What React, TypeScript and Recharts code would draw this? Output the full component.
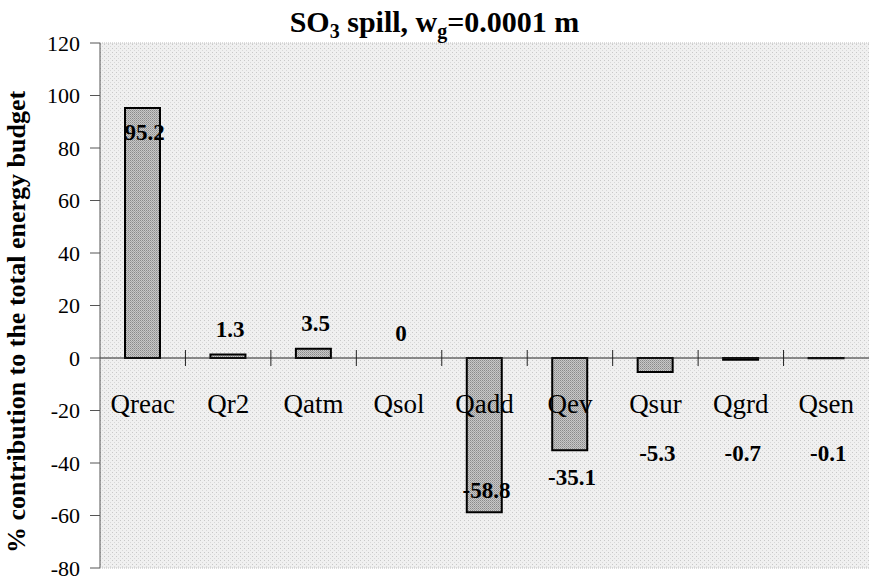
import React from 'react';
import { BarChart, Bar, XAxis, YAxis, CartesianGrid, ReferenceLine } from 'recharts';

// Energy budget terms, SO3 spill, wg = 0.0001 m
const categories = ['Qreac', 'Qr2', 'Qatm', 'Qsol', 'Qadd', 'Qev', 'Qsur', 'Qgrd', 'Qsen'];
const values = [95.2, 1.3, 3.5, 0, -58.8, -35.1, -5.3, -0.7, -0.1];
const yTicks = [-80, -60, -40, -20, 0, 20, 40, 60, 80, 100, 120];

const W = 869;
const H = 579;
const margin = { top: 43, right: 0, bottom: 0, left: 0 };
const xAxisHeight = 11;
const yAxisWidth = 100;
const plotW = W - margin.left - margin.right - yAxisWidth;
const plotH = H - margin.top - margin.bottom - xAxisHeight;
const yMin = yTicks[0];
const yMax = yTicks[yTicks.length - 1];
const yPx = (v: number) => margin.top + ((yMax - v) / (yMax - yMin)) * plotH;
const zeroY = yPx(0);
const barSize = 35;

const serif = 'Liberation Serif';
const boldText = { fontFamily: serif, fontWeight: 700 };

const data = categories.map((name, i) => ({ name, value: values[i] }));

// value label placement, mimicking the hand-placed Excel labels
function labelY(v: number) {
  const end = yPx(v);
  const h = Math.abs(end - zeroY);
  if (v >= 0) return h > 100 ? end + 24 : end - 25;
  if (h > 110) return end - 22;
  return Math.max(end + 27, zeroY + 95);
}

function ValueTick(props: any) {
  const { x, y, payload } = props;
  return (
    <text x={x} y={y} textAnchor="end" dominantBaseline="central" fontSize={22} style={{ fontFamily: serif }} fill="#000">
      {payload.value}
    </text>
  );
}

function CategoryTick(props: any) {
  const { x, payload, index } = props;
  const band = plotW / categories.length;
  const v = values[index];
  return (
    <g>
      {index < categories.length - 1 && (
        <line x1={x + band / 2} x2={x + band / 2} y1={zeroY - 8} y2={zeroY + 8} stroke="#222" strokeWidth={1} />
      )}
      <text x={x} y={zeroY + 55} textAnchor="middle" fontSize={27} style={{ fontFamily: serif }} fill="#000">
        {payload.value}
      </text>
      <text x={x + 2} y={labelY(v)} textAnchor="middle" dominantBaseline="central" fontSize={23} style={boldText} fill="#000">
        {String(v)}
      </text>
    </g>
  );
}

export default function App() {
  return (
    <div style={{ position: 'absolute', left: 0, top: 0, width: W, height: H, background: '#fff' }}>
      <svg width={0} height={0} style={{ position: 'absolute' }}>
        <defs>
          <pattern id="bgDots" width="4" height="4" patternUnits="userSpaceOnUse">
            <rect width="4" height="4" fill="#f0f0f0" />
            <rect x="0" y="0" width="1" height="1" fill="#c8c8c8" />
            <rect x="2" y="2" width="1" height="1" fill="#d8d8d8" />
          </pattern>
          <pattern id="barDots" width="2" height="2" patternUnits="userSpaceOnUse">
            <rect width="2" height="2" fill="#c8c8c8" />
            <rect x="0" y="0" width="1" height="1" fill="#8a8a8a" />
            <rect x="1" y="1" width="1" height="1" fill="#a4a4a4" />
          </pattern>
        </defs>
      </svg>
      <BarChart width={W} height={H} data={data} margin={margin} barSize={barSize}>
        <CartesianGrid horizontal={false} vertical={false} fill="url(#bgDots)" />
        <ReferenceLine y={yMax} stroke="#bbb" strokeDasharray="1 1" />
        <YAxis
          type="number"
          domain={[yMin, yMax]}
          ticks={yTicks}
          interval={0}
          width={yAxisWidth}
          tickSize={10}
          tickMargin={10}
          axisLine={{ stroke: '#555', strokeWidth: 1 }}
          tickLine={{ stroke: '#555', strokeWidth: 1 }}
          tick={<ValueTick />}
        />
        <Bar dataKey="value" fill="url(#barDots)" stroke="#000" strokeWidth={2} isAnimationActive={false} />
        <ReferenceLine y={0} stroke="#222" strokeWidth={1} />
        <XAxis
          dataKey="name"
          height={xAxisHeight}
          interval={0}
          axisLine={{ stroke: '#bbb', strokeDasharray: '1 1' }}
          tickLine={false}
          tick={<CategoryTick />}
        />
      </BarChart>
      <svg width={W} height={H} style={{ position: 'absolute', left: 0, top: 0, pointerEvents: 'none' }}>
        <text x={W / 2} y={32} textAnchor="middle" fontSize={30} style={boldText} fill="#000">
          SO
          <tspan fontSize={20} dy={6}>3</tspan>
          <tspan dy={-6}> spill, w</tspan>
          <tspan fontSize={20} dy={6}>g</tspan>
          <tspan dy={-6}>=0.0001 m</tspan>
        </text>
        <text x={25} y={322} transform="rotate(-90 25 322)" textAnchor="middle" fontSize={26} style={boldText} fill="#000">
          % contribution to the total energy budget
        </text>
      </svg>
    </div>
  );
}
